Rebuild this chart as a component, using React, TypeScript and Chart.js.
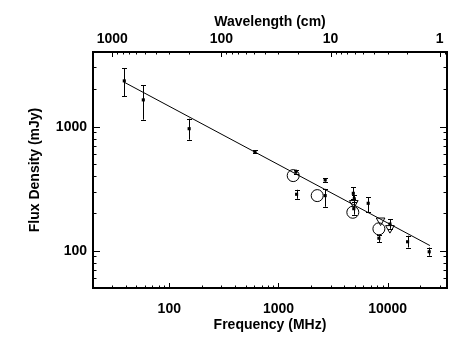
import React, { useEffect, useRef } from "react";
import { Chart, registerables } from "chart.js";

Chart.register(...registerables);

// Measured flux densities (filled squares with error bars)
const pointFreq = [38.7, 57.8, 152, 609, 1445, 1466, 2680, 2680, 4850, 4950, 4900, 6640, 8320, 10500, 15240, 24040];
const pointFlux = [2340, 1644, 963, 628, 433, 285, 372, 278, 290, 262, 218, 241, 126, 164, 118, 98];
const pointLow = [1757, 1138, 785, 612, 418, 262, 360, 226, 262, 245, 195, 204, 117, 150, 106, 91];
const pointHigh = [2960, 2158, 1160, 645, 450, 310, 385, 315, 325, 280, 245, 270, 134, 180, 132, 106];

// Open circles
const circleFreq = [1365, 2265, 4800, 8320];
const circleFlux = [403, 278, 204, 150];

// Open (downward) triangles
const triFreq = [4900, 8620, 10500];
const triFlux = [242, 175, 152];

// Power-law fit
const fitFreq = [38.7, 24400];
const fitFlux = [2280, 110];

// Axes
const freqTicks = [100, 1000, 10000];
const waveTicks = [1000, 100, 10, 1];
const fluxTicks = [100, 1000];
const FREQ_MIN = 20;
const FREQ_MAX = 35000;
const FLUX_MIN = 50;
const FLUX_MAX = 4000;
const C_CM_MHZ = 30000; // wavelength (cm) = 30000 / frequency (MHz)

const FONT = { family: "'Liberation Sans', Arial, Helvetica, sans-serif", size: 14, weight: "bold" };

function logTicks(min: number, max: number) {
  const out: { v: number; major: boolean }[] = [];
  const k0 = Math.floor(Math.log10(Math.min(min, max)));
  const k1 = Math.ceil(Math.log10(Math.max(min, max)));
  const lo = Math.min(min, max) * 0.9999;
  const hi = Math.max(min, max) * 1.0001;
  for (let k = k0; k <= k1; k++) {
    for (let m = 1; m <= 9; m++) {
      const v = m * Math.pow(10, k);
      if (v >= lo && v <= hi) out.push({ v, major: m === 1 });
    }
  }
  return out;
}

const errorBarPlugin = {
  id: "errorBars",
  afterDatasetsDraw(chart: any) {
    const ctx = chart.ctx;
    const xs = chart.scales.x;
    const ys = chart.scales.y;
    ctx.save();
    ctx.strokeStyle = "#000";
    ctx.lineWidth = 1;
    for (let i = 0; i < pointFreq.length; i++) {
      const x = Math.round(xs.getPixelForValue(pointFreq[i])) + 0.5;
      const y1 = ys.getPixelForValue(pointLow[i]);
      const y2 = ys.getPixelForValue(pointHigh[i]);
      ctx.beginPath();
      ctx.moveTo(x, y1);
      ctx.lineTo(x, y2);
      ctx.moveTo(x - 2.5, Math.round(y1) + 0.5);
      ctx.lineTo(x + 2.5, Math.round(y1) + 0.5);
      ctx.moveTo(x - 2.5, Math.round(y2) + 0.5);
      ctx.lineTo(x + 2.5, Math.round(y2) + 0.5);
      ctx.stroke();
    }
    ctx.restore();
  },
};

const framePlugin = {
  id: "frameTicks",
  afterDraw(chart: any) {
    const ctx = chart.ctx;
    const { left, right, top, bottom } = chart.chartArea;
    const xs = chart.scales.x;
    const x2 = chart.scales.x2;
    const ys = chart.scales.y;
    ctx.save();
    ctx.strokeStyle = "#000";
    ctx.lineWidth = 1;
    ctx.beginPath();
    for (const t of logTicks(FREQ_MIN, FREQ_MAX)) {
      const x = Math.round(xs.getPixelForValue(t.v)) + 0.5;
      const len = t.major ? 5 : 2.5;
      ctx.moveTo(x, bottom);
      ctx.lineTo(x, bottom - len);
    }
    for (const t of logTicks(C_CM_MHZ / FREQ_MAX, C_CM_MHZ / FREQ_MIN)) {
      const x = Math.round(x2.getPixelForValue(t.v)) + 0.5;
      const len = t.major ? 5 : 2.5;
      ctx.moveTo(x, top);
      ctx.lineTo(x, top + len);
    }
    for (const t of logTicks(FLUX_MIN, FLUX_MAX)) {
      const y = Math.round(ys.getPixelForValue(t.v)) + 0.5;
      const len = t.major ? 7 : 3.5;
      ctx.moveTo(left, y);
      ctx.lineTo(left + len, y);
      ctx.moveTo(right, y);
      ctx.lineTo(right - len, y);
    }
    ctx.stroke();
    ctx.lineWidth = 2;
    ctx.strokeRect(left, top, right - left, bottom - top);
    ctx.restore();
  },
};

export default function App() {
  const ref = useRef<HTMLCanvasElement | null>(null);

  useEffect(() => {
    document.body.style.margin = "0";
    const canvas = ref.current;
    if (!canvas) return;

    const chart = new Chart(canvas, {
      type: "scatter",
      data: {
        datasets: [
          {
            label: "Fit",
            type: "line",
            data: fitFreq.map((f, i) => ({ x: f, y: fitFlux[i] })),
            borderColor: "#000",
            borderWidth: 1,
            pointRadius: 0,
            fill: false,
            tension: 0,
          } as any,
          {
            label: "Measurements",
            data: pointFreq.map((f, i) => ({ x: f, y: pointFlux[i] })),
            pointStyle: "rect",
            pointRadius: 2.2,
            backgroundColor: "#000",
            borderWidth: 0,
          },
          {
            label: "Circles",
            data: circleFreq.map((f, i) => ({ x: f, y: circleFlux[i] })),
            pointStyle: "circle",
            pointRadius: 6,
            backgroundColor: "rgba(0,0,0,0)",
            borderColor: "#000",
            borderWidth: 1,
          },
          {
            label: "Triangles",
            data: triFreq.map((f, i) => ({ x: f, y: triFlux[i] })),
            pointStyle: "triangle",
            rotation: 180,
            pointRadius: 5,
            backgroundColor: "rgba(0,0,0,0)",
            borderColor: "#000",
            borderWidth: 1,
          } as any,
        ],
      },
      options: {
        animation: false,
        responsive: false,
        devicePixelRatio: 1,
        layout: { padding: { left: 0, right: 23, top: 0, bottom: 0 } },
        plugins: {
          legend: { display: false },
          tooltip: { enabled: false },
        },
        scales: {
          x: {
            type: "logarithmic",
            position: "bottom",
            min: FREQ_MIN,
            max: FREQ_MAX,
            grid: { display: false, drawTicks: false },
            border: { display: false },
            afterBuildTicks: (s: any) => {
              s.ticks = freqTicks.map((v) => ({ value: v }));
            },
            afterFit: (s: any) => {
              s.height = 64;
            },
            ticks: {
              autoSkip: false,
              maxRotation: 0,
              padding: 13,
              color: "#000",
              font: FONT,
              callback: (v: any) => String(v),
            },
            title: {
              display: true,
              text: "Frequency (MHz)",
              color: "#000",
              font: FONT,
              padding: { top: 0, bottom: 18 },
            },
          },
          x2: {
            type: "logarithmic",
            position: "top",
            reverse: true,
            min: C_CM_MHZ / FREQ_MAX,
            max: C_CM_MHZ / FREQ_MIN,
            grid: { display: false, drawTicks: false },
            border: { display: false },
            afterBuildTicks: (s: any) => {
              s.ticks = waveTicks.map((v) => ({ value: v }));
            },
            afterFit: (s: any) => {
              s.height = 52;
            },
            ticks: {
              autoSkip: false,
              maxRotation: 0,
              padding: 4.5,
              color: "#000",
              font: FONT,
              callback: (v: any) => String(v),
            },
            title: {
              display: true,
              text: "Wavelength (cm)",
              color: "#000",
              font: FONT,
              padding: { top: 13.5, bottom: 0 },
            },
          },
          y: {
            type: "logarithmic",
            position: "left",
            min: FLUX_MIN,
            max: FLUX_MAX,
            grid: { display: false, drawTicks: false },
            border: { display: false },
            afterBuildTicks: (s: any) => {
              s.ticks = fluxTicks.map((v) => ({ value: v }));
            },
            afterFit: (s: any) => {
              s.width = 93;
            },
            ticks: {
              autoSkip: false,
              padding: 6,
              color: "#000",
              font: FONT,
              callback: (v: any) => String(v),
            },
            title: {
              display: true,
              text: "Flux Density (mJy)",
              color: "#000",
              font: FONT,
              padding: { top: 27, bottom: 0 },
            },
          },
        },
      } as any,
      plugins: [errorBarPlugin, framePlugin],
    });

    return () => chart.destroy();
  }, []);

  return <canvas ref={ref} width={470} height={352} style={{ display: "block" }} />;
}
